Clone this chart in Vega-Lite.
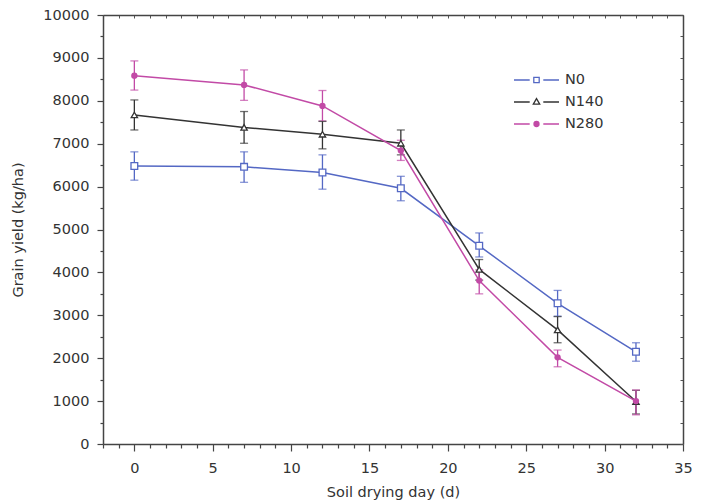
{
  "$schema": "https://vega.github.io/schema/vega-lite/v6.json",
  "width": 580,
  "height": 429,
  "autosize": {"type": "none"},
  "padding": {"left": 103, "top": 15, "right": 24, "bottom": 59},
  "background": "white",
  "config": {"view": {"stroke": null}, "font": "DejaVu Sans"},
  "data": {"values": [
    {"series": "N0", "day": 0, "y": 6480, "lo": 6150, "hi": 6810},
    {"series": "N0", "day": 7, "y": 6460, "lo": 6100, "hi": 6810},
    {"series": "N0", "day": 12, "y": 6330, "lo": 5940, "hi": 6740},
    {"series": "N0", "day": 17, "y": 5960, "lo": 5670, "hi": 6240},
    {"series": "N0", "day": 22, "y": 4620, "lo": 4360, "hi": 4920},
    {"series": "N0", "day": 27, "y": 3280, "lo": 2980, "hi": 3580},
    {"series": "N0", "day": 32, "y": 2150, "lo": 1930, "hi": 2360},
    {"series": "N140", "day": 0, "y": 7670, "lo": 7320, "hi": 8020},
    {"series": "N140", "day": 7, "y": 7380, "lo": 7010, "hi": 7750},
    {"series": "N140", "day": 12, "y": 7220, "lo": 6880, "hi": 7520},
    {"series": "N140", "day": 17, "y": 7010, "lo": 6740, "hi": 7320},
    {"series": "N140", "day": 22, "y": 4070, "lo": 3820, "hi": 4300},
    {"series": "N140", "day": 27, "y": 2660, "lo": 2360, "hi": 2970},
    {"series": "N140", "day": 32, "y": 990, "lo": 700, "hi": 1250},
    {"series": "N280", "day": 0, "y": 8585, "lo": 8250, "hi": 8930},
    {"series": "N280", "day": 7, "y": 8370, "lo": 8010, "hi": 8720},
    {"series": "N280", "day": 12, "y": 7880, "lo": 7530, "hi": 8240},
    {"series": "N280", "day": 17, "y": 6840, "lo": 6610, "hi": 7080},
    {"series": "N280", "day": 22, "y": 3810, "lo": 3500, "hi": 4060},
    {"series": "N280", "day": 27, "y": 2020, "lo": 1800, "hi": 2190},
    {"series": "N280", "day": 32, "y": 1000, "lo": 680, "hi": 1260}
  ]},
  "resolve": {"axis": {"x": "independent", "y": "independent"}},
  "layer": [
    {
      "mark": {"type": "errorbar", "ticks": {"size": 8, "thickness": 1.3}, "thickness": 1.3},
      "encoding": {
        "x": {"field": "day", "type": "quantitative", "scale": {"domain": [-2, 35], "nice": false, "zero": false}, "axis": null},
        "y": {"field": "lo", "type": "quantitative", "scale": {"domain": [0, 10000], "nice": false}, "axis": null},
        "y2": {"field": "hi"},
        "color": {"field": "series", "type": "nominal", "scale": {"range": ["#5468c4", "#333333", "#c24aa6"]}, "legend": null}
      }
    },
    {
      "mark": {"type": "line", "strokeWidth": 1.5},
      "encoding": {
        "x": {"field": "day", "type": "quantitative", "axis": null},
        "y": {"field": "y", "type": "quantitative", "axis": null},
        "color": {"field": "series", "type": "nominal", "legend": null}
      }
    },
    {
      "transform": [{"filter": "datum.series === 'N0'"}],
      "mark": {"type": "point", "shape": "square", "filled": true, "fill": "white", "stroke": "#5468c4", "strokeWidth": 1.3, "size": 45, "opacity": 1},
      "encoding": {
        "x": {"field": "day", "type": "quantitative", "axis": null},
        "y": {"field": "y", "type": "quantitative", "axis": null}
      }
    },
    {
      "transform": [{"filter": "datum.series === 'N140'"}],
      "mark": {"type": "point", "shape": "triangle-up", "filled": true, "fill": "white", "stroke": "#333333", "strokeWidth": 1.3, "size": 40, "opacity": 1},
      "encoding": {
        "x": {"field": "day", "type": "quantitative", "axis": null},
        "y": {"field": "y", "type": "quantitative", "axis": null}
      }
    },
    {
      "transform": [{"filter": "datum.series === 'N280'"}],
      "mark": {"type": "point", "shape": "circle", "filled": true, "color": "#c24aa6", "size": 40, "opacity": 1},
      "encoding": {
        "x": {"field": "day", "type": "quantitative", "axis": null},
        "y": {"field": "y", "type": "quantitative", "axis": null}
      }
    },
    {
      "mark": {"type": "point", "filled": false, "opacity": 0},
      "encoding": {
        "x": {"field": "day", "type": "quantitative", "axis": {
          "orient": "bottom",
          "values": [-2, -1, 0, 1, 2, 3, 4, 5, 6, 7, 8, 9, 10, 11, 12, 13, 14, 15, 16, 17, 18, 19, 20, 21, 22, 23, 24, 25, 26, 27, 28, 29, 30, 31, 32, 33, 34, 35],
          "labelExpr": "datum.value % 5 === 0 ? datum.label : ''",
          "tickSize": {"condition": {"test": "datum.value % 5 === 0", "value": 7}, "value": 4},
          "tickColor": "#444", "tickWidth": 1.2, "domainColor": "#444", "domainWidth": 1.5,
          "labelFontSize": 14.5, "labelColor": "#333", "labelPadding": 10, "labelFlush": false, "labelOverlap": false,
          "title": "Soil drying day (d)", "titleFontSize": 14.5, "titleFontWeight": "normal", "titleColor": "#333", "titlePadding": 11, "grid": false
        }},
        "y": {"field": "y", "type": "quantitative", "axis": {
          "orient": "left",
          "values": [0, 500, 1000, 1500, 2000, 2500, 3000, 3500, 4000, 4500, 5000, 5500, 6000, 6500, 7000, 7500, 8000, 8500, 9000, 9500, 10000],
          "labelExpr": "datum.value % 1000 === 0 ? datum.label : ''",
          "format": "d",
          "tickSize": {"condition": {"test": "datum.value % 1000 === 0", "value": 6}, "value": 3},
          "tickColor": "#444", "tickWidth": 1.2, "domainColor": "#444", "domainWidth": 1.5,
          "labelFontSize": 14.5, "labelColor": "#333", "labelPadding": 8, "labelFlush": false, "labelOverlap": false,
          "title": "Grain yield (kg/ha)", "titleFontSize": 14.5, "titleFontWeight": "normal", "titleColor": "#333", "titlePadding": 17, "grid": false
        }},
        "stroke": {"field": "series", "type": "nominal", "scale": {"domain": ["N0", "N140", "N280"], "range": ["#5468c4", "#333333", "#c24aa6"]}, "legend": {
          "orient": "none", "legendX": 422.5, "legendY": 54, "title": null,
          "labelFontSize": 14.5, "labelColor": "#333", "labelOffset": 17.5,
          "symbolSize": 400, "symbolStrokeWidth": 1.3, "symbolOpacity": 1,
          "rowPadding": 4,
          "encode": {"symbols": {"update": {
            "fill": {"value": "white"},
            "opacity": {"value": 1}
          }}}
        }},
        "shape": {"field": "series", "type": "nominal", "scale": {"domain": ["N0", "N140", "N280"], "range": [
          "M-2.25,0L-0.68,0M0.68,0L2.25,0M-0.27,-0.27L0.27,-0.27L0.27,0.27L-0.27,0.27Z",
          "M-2.25,0L-0.68,0M0.68,0L2.25,0M0,-0.34L0.32,0.22L-0.32,0.22Z",
          "M-2.25,0L-0.68,0M0.68,0L2.25,0M0.25,0A0.25,0.25 0 1,1 -0.25,0A0.25,0.25 0 1,1 0.25,0ZM0.16,0A0.16,0.16 0 1,1 -0.16,0A0.16,0.16 0 1,1 0.16,0ZM0.07,0A0.07,0.07 0 1,1 -0.07,0A0.07,0.07 0 1,1 0.07,0Z"
        ]}}
      }
    },
    {
      "mark": {"type": "point", "opacity": 0},
      "encoding": {
        "x": {"field": "day", "type": "quantitative", "axis": {
          "orient": "top",
          "values": [-2, -1, 0, 1, 2, 3, 4, 5, 6, 7, 8, 9, 10, 11, 12, 13, 14, 15, 16, 17, 18, 19, 20, 21, 22, 23, 24, 25, 26, 27, 28, 29, 30, 31, 32, 33, 34, 35],
          "labels": false, "title": null, "tickSize": -3, "tickColor": "#555", "tickWidth": 1, "domainColor": "#444", "domainWidth": 1.5, "grid": false
        }},
        "y": {"field": "y", "type": "quantitative", "axis": {
          "orient": "right",
          "values": [0, 500, 1000, 1500, 2000, 2500, 3000, 3500, 4000, 4500, 5000, 5500, 6000, 6500, 7000, 7500, 8000, 8500, 9000, 9500, 10000],
          "labels": false, "title": null, "tickSize": -3, "tickColor": "#555", "tickWidth": 1, "domainColor": "#444", "domainWidth": 1.5, "grid": false
        }}
      }
    }
  ]
}
